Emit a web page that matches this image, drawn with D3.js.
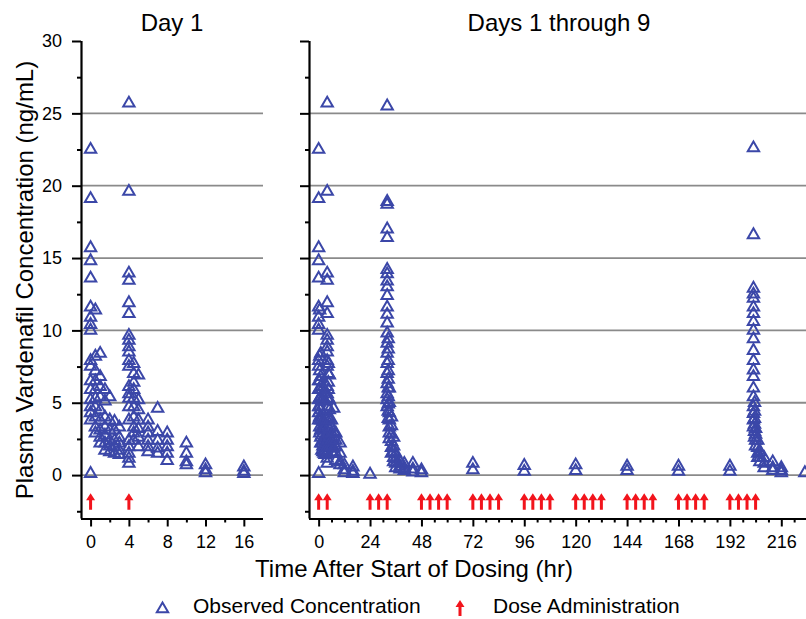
<!DOCTYPE html>
<html>
<head>
<meta charset="utf-8">
<script src="https://cdn.jsdelivr.net/npm/d3@7"></script>
<style>
  body { margin: 0; background: #fff; }
  text { font-family: "Liberation Sans", Arial, sans-serif; fill: #000; }
</style>
</head>
<body>
<svg id="chart" width="806" height="619"></svg>
<script>
// ---- data ----
const day1Times = [0, 0.5, 1, 1.5, 2, 2.5, 3, 4, 4.5, 5, 6, 7, 8, 10, 12, 16];
const day1Conc = [
  [0.1, 3.8, 4.3, 4.7, 5.2, 5.9, 6.5, 7.5, 7.9, 10.0, 10.4, 10.9, 11.6, 13.6, 14.8, 15.7, 19.1, 22.5],
  [2.9, 3.3, 4.0, 4.7, 5.3, 5.9, 6.5, 7.2, 8.2, 11.4],
  [2.2, 2.6, 3.1, 3.8, 4.5, 5.4, 6.1, 6.8, 8.4],
  [1.7, 2.2, 2.75, 3.3, 4.0, 5.1, 5.9],
  [1.6, 2.0, 2.4, 3.1, 3.8, 5.4],
  [1.5, 1.95, 2.4, 3.1, 3.7],
  [1.4, 1.7, 2.2, 2.6, 3.3],
  [0.8, 1.15, 1.5, 1.95, 2.4, 3.8, 4.7, 5.3, 5.6, 6.1, 7.5, 7.9, 8.5, 8.85, 9.3, 9.65, 11.15, 11.9, 13.45, 13.95, 19.6, 25.7],
  [2.4, 2.9, 3.3, 4.0, 4.7, 5.3, 5.9, 6.4, 7.0, 7.7],
  [1.95, 2.6, 3.2, 3.8, 4.5, 5.2, 6.9],
  [1.6, 1.95, 2.4, 2.9, 3.3, 3.8],
  [1.5, 1.85, 2.4, 3.0, 4.6],
  [1.0, 1.5, 1.95, 2.4, 2.9],
  [0.7, 0.9, 1.5, 2.2],
  [0.15, 0.35, 0.7],
  [0.1, 0.25, 0.55]
];

const day2Times = [24, 32, 32.5, 33, 34, 35, 36, 38, 40, 44, 48];
const day2Conc = [
  [0.05],
  [25.5, 18.9, 18.7, 17.0, 16.4, 14.2, 13.9, 13.4, 13.0, 12.4, 11.6, 11.1, 10.5, 9.8, 9.1, 8.4, 7.7, 7.0, 6.3, 5.6, 5.2, 4.7],
  [9.4, 8.7, 7.9, 7.2, 6.6, 6.0, 5.4, 4.9, 4.4, 3.9],
  [6.0, 5.0, 4.3, 3.8, 3.3, 2.9, 2.5],
  [4.0, 3.4, 2.8, 2.3, 1.9, 1.5],
  [2.6, 2.0, 1.6, 1.2, 0.9],
  [1.5, 1.1, 0.8, 0.5],
  [0.9, 0.6, 0.4],
  [0.8, 0.5, 0.3],
  [0.8, 0.4, 0.2],
  [0.35, 0.15]
];

const troughTimes = [72, 96, 120, 144, 168, 192];
const troughConc = [[0.35, 0.8], [0.25, 0.65], [0.3, 0.7], [0.3, 0.6], [0.25, 0.6], [0.25, 0.6]];

const day9Times = [203, 203.5, 204, 205, 206, 208, 212, 216, 227];
const day9Conc = [
  [22.6, 16.6, 12.9, 12.5, 12.2, 11.6, 11.15, 10.6, 10.0, 9.4, 8.6, 7.9, 7.25, 6.8, 6.0, 5.4, 4.7, 4.25, 3.8, 3.3],
  [5.0, 4.4, 3.9, 3.5, 3.0, 2.6],
  [3.2, 2.8, 2.4, 2.0],
  [2.4, 1.9, 1.5, 1.2],
  [1.6, 1.2, 0.9],
  [1.2, 0.8, 0.5],
  [0.9, 0.5, 0.3],
  [0.5, 0.3, 0.15],
  [0.15]
];

const doseDay1 = [0, 4];
const doseAll = [0, 4, 24, 28, 32, 48, 52, 56, 60, 72, 76, 80, 84, 96, 100, 104, 108,
  120, 124, 128, 132, 144, 148, 152, 156, 168, 172, 176, 180, 192, 196, 200, 204];

const yMajor = [0, 5, 10, 15, 20, 25, 30];
const yMinor = [-2.5, 2.5, 7.5, 12.5, 17.5, 22.5, 27.5];
const gridValues = [0, 5, 10, 15, 20, 25];
const leftMajor = [0, 4, 8, 12, 16];
const leftMinor = [2, 6, 10, 14];
const rightMajor = [0, 24, 48, 72, 96, 120, 144, 168, 192, 216];
const rightMinor = d3.range(0, 228, 6).filter(d => d % 24 !== 0);

// ---- helpers ----
function toPoints(times, concs) {
  return times.flatMap((t, i) => concs[i].map(c => ({t, c})));
}
const day1Points = toPoints(day1Times, day1Conc);
const allPoints = day1Points
  .concat(toPoints(day2Times, day2Conc))
  .concat(toPoints(troughTimes, troughConc))
  .concat(toPoints(day9Times, day9Conc));

const blue = "#3b47a8";
const red = "#f2141c";
const svg = d3.select("#chart");

const yScale = d3.scaleLinear().domain([-3, 30]).range([518.5, 41]);
const tri = d3.symbol().type(d3.symbolTriangle).size(56);

function arrowPath(x, yTip, yBase) {
  return `M${x},${yTip} L${x + 4.5},${yTip + 7} L${x + 1.5},${yTip + 7} L${x + 1.5},${yBase}`
    + ` L${x - 1.5},${yBase} L${x - 1.5},${yTip + 7} L${x - 4.5},${yTip + 7} Z`;
}

function drawPanel(xScale, xMajor, xMinor, points, doses, showYLabels, title, titleX) {
  let [x0, x1] = xScale.range();
  let g = svg.append("g");

  // gridlines
  g.selectAll(".grid").data(gridValues).enter().append("line")
    .attr("x1", x0).attr("x2", x1)
    .attr("y1", d => yScale(d)).attr("y2", d => yScale(d))
    .attr("stroke", "#8a8a8a").attr("stroke-width", 1.8);

  // y axis (major + minor)
  let yAxis = g.append("g").attr("transform", `translate(${x0},0)`)
    .call(d3.axisLeft(yScale).tickValues(yMajor).tickSize(9).tickPadding(10)
      .tickFormat(showYLabels ? d3.format("d") : ""));
  g.append("g").attr("transform", `translate(${x0},0)`)
    .call(d3.axisLeft(yScale).tickValues(yMinor).tickSize(4).tickFormat(""))
    .select(".domain").remove();

  // x axis (major + minor)
  let xAxis = g.append("g").attr("transform", `translate(0,${yScale(-3)})`)
    .call(d3.axisBottom(xScale).tickValues(xMajor).tickSize(8).tickPadding(9).tickFormat(d3.format("d")));
  g.append("g").attr("transform", `translate(0,${yScale(-3)})`)
    .call(d3.axisBottom(xScale).tickValues(xMinor).tickSize(4).tickFormat(""))
    .select(".domain").remove();

  g.selectAll(".domain").attr("stroke", "#000").attr("stroke-width", 2.2);
  g.selectAll(".tick line").attr("stroke", "#000").attr("stroke-width", 2);
  g.selectAll(".tick text").attr("font-size", 18).attr("font-family", "Liberation Sans, Arial, sans-serif");
  // square domain paths, no outer ticks
  yAxis.select(".domain").attr("d", `M0.5,${yScale(30)}V${yScale(-3)}`);
  xAxis.select(".domain").attr("d", `M${x0},0.5H${x1}`);

  // observed concentrations
  g.selectAll(".obs").data(points).enter().append("path")
    .attr("d", tri)
    .attr("transform", d => `translate(${xScale(d.t)},${yScale(d.c)})`)
    .attr("fill", "none").attr("stroke", blue).attr("stroke-width", 2);

  // dose arrows
  g.selectAll(".dose").data(doses).enter().append("path")
    .attr("d", d => arrowPath(xScale(d), yScale(-1.25), yScale(-2.4)))
    .attr("fill", red);

  svg.append("text").attr("x", titleX).attr("y", 31)
    .attr("text-anchor", "middle").attr("font-size", 24).text(title);
}

const xLeft = d3.scaleLinear().domain([-1, 18]).range([81, 263]);
const xRight = d3.scaleLinear().domain([-4.5, 228]).range([309, 807]);

drawPanel(xLeft, leftMajor, leftMinor, day1Points, doseDay1, true, "Day 1", 172);
drawPanel(xRight, rightMajor, rightMinor, allPoints, doseAll, false, "Days 1 through 9", 559);

// axis titles
svg.append("text")
  .attr("transform", "translate(33,280) rotate(-90)")
  .attr("text-anchor", "middle").attr("font-size", 24)
  .text("Plasma Vardenafil Concentration (ng/mL)");
svg.append("text").attr("x", 414).attr("y", 577)
  .attr("text-anchor", "middle").attr("font-size", 24)
  .text("Time After Start of Dosing (hr)");

// legend
let legend = svg.append("g");
legend.append("path").attr("d", tri).attr("transform", "translate(162.5,609)")
  .attr("fill", "none").attr("stroke", blue).attr("stroke-width", 2);
legend.append("text").attr("x", 193).attr("y", 613).attr("font-size", 21).text("Observed Concentration");
legend.append("path").attr("d", arrowPath(460, 600, 616)).attr("fill", red);
legend.append("text").attr("x", 493).attr("y", 613).attr("font-size", 21).text("Dose Administration");
</script>
</body>
</html>
